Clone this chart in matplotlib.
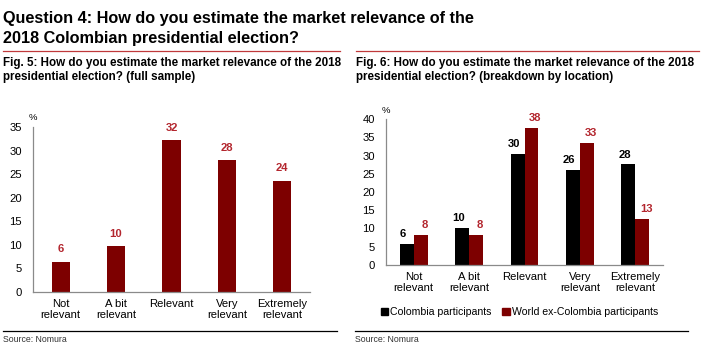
import numpy as np
import matplotlib
matplotlib.use('Agg')
import matplotlib.pyplot as plt
from matplotlib.lines import Line2D
from matplotlib.patches import Patch

plt.rcParams.update({'font.family': ['Liberation Sans', 'DejaVu Sans']})

categories = ['Not\nrelevant', 'A bit\nrelevant', 'Relevant', 'Very\nrelevant', 'Extremely\nrelevant']
full_sample = [6.4, 9.7, 32.2, 27.9, 23.6]
colombia = [5.8, 10.2, 30.4, 26.0, 27.6]
world_ex = [8.3, 8.3, 37.6, 33.4, 12.6]
series_names = ['Colombia participants', 'World ex-Colombia participants']

BAR = '#7d0000'
LBL = '#b3262e'
GREY = '#8a8a8a'
FS = 8.1

W, H = 707, 345
fig = plt.figure(figsize=(W / 100, H / 100), dpi=100)
fig.patch.set_facecolor('white')

def px(x, y):
    return x / W, 1 - y / H

# headline and figure captions
fig.text(*px(3, 19), 'Question 4: How do you estimate the market relevance of the',
         fontsize=11.7, fontweight='bold', va='center')
fig.text(*px(3, 38), '2018 Colombian presidential election?',
         fontsize=11.7, fontweight='bold', va='center')
for x0, x1 in [(3, 340), (356, 699)]:
    fig.add_artist(Line2D([x0 / W, x1 / W], [1 - 51 / H] * 2, color='#c0393b', lw=0.9))
cap = dict(fontsize=8.4, fontweight='bold', va='center')
fig.text(*px(3, 63), 'Fig. 5: How do you estimate the market relevance of the 2018', **cap)
fig.text(*px(3, 77), 'presidential election? (full sample)', **cap)
fig.text(*px(356, 63), 'Fig. 6: How do you estimate the market relevance of the 2018', **cap)
fig.text(*px(356, 77), 'presidential election? (breakdown by location)', **cap)

# source lines
for x0, x1 in [(3, 337), (355, 688)]:
    fig.add_artist(Line2D([x0 / W, x1 / W], [1 - 331 / H] * 2, color='black', lw=0.9))
    fig.text(*px(x0, 340), 'Source: Nomura', fontsize=6.3, va='center', color='#333333')

def style(ax, ymax):
    for s in ['top', 'right']:
        ax.spines[s].set_visible(False)
    for s in ['left', 'bottom']:
        ax.spines[s].set_color(GREY)
        ax.spines[s].set_linewidth(0.9)
    ax.tick_params(length=0, labelsize=FS, pad=8)
    ax.tick_params(axis='x', pad=5)
    ax.set_xlim(-0.5, 4.5)
    ax.set_ylim(0, ymax)
    ax.set_yticks(np.arange(0, ymax + 1, 5))
    ax.set_xticks(range(5))
    ax.set_xticklabels(categories, fontsize=FS, linespacing=1.12)
    ax.text(0, 1.03, '%', transform=ax.transAxes, fontsize=6.8, ha='center', va='bottom')

x = np.arange(5)

# Fig. 5
ax1 = fig.add_axes([33 / W, 53 / H, 277 / W, 165 / H])
ax1.bar(x, full_sample, width=0.33, color=BAR)
for xi, v in zip(x, full_sample):
    ax1.text(xi, v + 1.6, f'{v:.0f}', ha='center', va='bottom', color=LBL,
             fontsize=FS, fontweight='bold')
style(ax1, 35)

# Fig. 6
ax2 = fig.add_axes([386 / W, 80 / H, 277 / W, 146 / H])
bw = 0.25
ax2.bar(x - bw / 2, colombia, width=bw, color='black')
ax2.bar(x + bw / 2, world_ex, width=bw, color=BAR)
for xi, a, b in zip(x, colombia, world_ex):
    ax2.text(xi - bw / 2 - 0.07, a + 1.3, f'{a:.0f}', ha='center', va='bottom',
             color='black', fontsize=FS, fontweight='bold')
    ax2.text(xi + bw / 2 + 0.07, b + 1.3, f'{b:.0f}', ha='center', va='bottom',
             color=LBL, fontsize=FS, fontweight='bold')
style(ax2, 40)

handles = [Patch(color='black'), Patch(color=BAR)]
fig.legend(handles, series_names, loc='center left', bbox_to_anchor=(381 / W, 1 - 312 / H),
           ncol=2, frameon=False, fontsize=7.6, handlelength=0.7, handleheight=0.7,
           handletextpad=0.2, columnspacing=1.0, borderaxespad=0, borderpad=0)

fig.savefig('out.png', dpi=100)
